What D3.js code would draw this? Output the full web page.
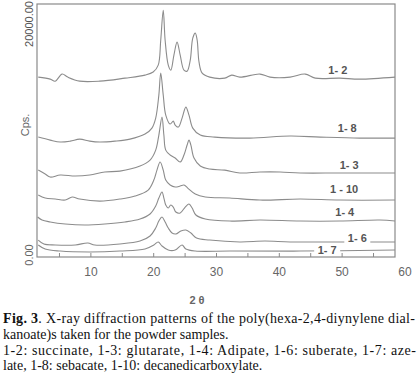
<!DOCTYPE html>
<html>
<head>
<meta charset="utf-8">
<script src="https://cdn.jsdelivr.net/npm/d3@7"></script>
<style>
  body { margin: 0; background: #fff; }
  svg { display: block; }
  .sans { font-family: 'Liberation Sans', Arial, sans-serif; }
  .serif { font-family: 'Liberation Serif', 'Times New Roman', serif; }
</style>
</head>
<body>
<svg id="chart" width="419" height="377"></svg>
<script>
// 2theta (deg), counts (cps)
let s12 = [[1.7,14220],[3.6,14060],[4.4,13900],[5.5,14460],[6.4,14220],[8.3,13900],[11.5,13900],[15.5,14140],[18.7,14380],[20.0,14620],[20.8,15170],[21.2,17140],[21.6,19510],[21.9,17140],[22.4,15170],[22.8,14770],[23.3,15960],[23.8,16990],[24.3,15960],[24.9,14770],[25.4,14690],[25.9,15560],[26.3,17300],[26.7,17700],[27.0,17140],[27.3,15400],[27.8,14540],[29.0,14220],[31.4,14140],[32.5,14380],[33.8,14220],[37.0,14460],[38.6,14220],[41.8,14220],[44.2,14460],[45.8,14140],[49.7,14140],[52.9,14060],[58.5,14220]];
let s18 = [[1.7,9480],[3.6,9240],[5.2,9090],[6.8,9160],[8.3,9320],[9.9,9160],[11.5,9090],[13.9,9160],[16.3,9320],[18.7,9720],[19.8,10190],[20.4,10980],[20.9,12800],[21.2,14540],[21.6,12800],[22.0,11220],[22.7,10510],[23.2,10740],[23.5,10430],[24.0,10270],[24.6,10980],[25.2,11850],[25.7,11220],[26.3,10190],[27.5,9640],[29.8,9480],[35.4,9400],[41.8,9560],[46.6,9480],[52.9,9400],[58.5,9400]];
let s13 = [[1.7,6870],[2.8,6560],[3.6,6320],[5.2,6480],[7.6,6400],[9.9,6480],[12.3,6720],[14.7,6790],[17.9,7190],[19.5,7660],[20.4,8450],[20.9,9640],[21.4,11060],[21.7,9640],[22.0,8450],[22.7,8060],[23.5,7820],[24.3,7510],[24.9,8060],[25.4,8850],[25.7,9240],[26.0,8850],[26.5,7820],[27.5,7190],[29.0,6950],[31.4,6870],[33.8,6640],[37.0,6720],[40.2,6720],[43.4,6640],[49.7,6640],[58.5,6640]];
let s110 = [[1.7,4900],[2.8,4660],[4.4,4580],[6.0,4500],[7.1,4740],[8.3,4580],[11.5,4420],[14.7,4580],[17.1,4820],[19.2,5290],[20.1,6080],[20.6,6870],[21.1,7510],[21.6,6870],[22.0,6080],[22.7,5690],[23.5,5530],[24.3,5610],[24.9,5690],[25.5,5450],[26.7,4980],[28.3,4740],[32.2,4660],[37.0,4500],[43.4,4580],[49.7,4500],[58.5,4500]];
let s14 = [[1.6,3160],[2.3,2920],[3.6,2770],[6.0,2610],[9.1,2530],[12.3,2610],[15.5,2770],[17.9,3000],[19.5,3400],[20.4,4030],[20.9,4660],[21.4,5140],[21.7,4660],[22.0,4110],[22.4,3870],[22.8,4110],[23.2,3950],[23.6,3560],[24.3,3480],[25.1,3950],[25.7,4190],[26.2,3870],[26.8,3320],[28.3,3000],[32.2,2840],[37.0,2920],[43.4,2840],[49.7,2840],[56.1,2920],[58.5,2840]];
let s16 = [[1.7,1340],[2.6,1030],[4.4,950],[7.6,950],[9.6,1110],[10.7,950],[14.7,1030],[17.9,1260],[19.5,1660],[20.4,2290],[20.9,2840],[21.4,3160],[21.9,2770],[22.4,2290],[23.0,1900],[23.6,1820],[24.4,2050],[25.2,2130],[26.0,1900],[26.9,1500],[29.0,1340],[33.8,1190],[37.8,1260],[41.8,1190],[49.7,1190],[58.5,1190]];
let s17 = [[1.7,950],[2.8,630],[5.2,470],[9.9,400],[14.7,470],[18.7,630],[20.1,950],[20.8,1190],[21.4,870],[22.4,550],[23.5,550],[24.6,950],[25.2,630],[26.7,470],[32.2,470],[43.4,470],[58.5,550]];

let seriesNames = ['1- 2', '1- 8', '1- 3', '1 - 10', '1- 4', '1- 6', '1- 7'];
let seriesData = [s12, s18, s13, s110, s14, s16, s17];
// where each curve label sits: [2theta, cps]
let labelAt = [[49.4,14770],[50.9,10190],[51.2,7270],[50.4,5370],[50.5,3560],[52.5,1500],[47.7,550]];

let xTicks = [5,10,15,20,25,30,35,40,45,50,55,60];
let yTickLabels = ['0.00', '20000.00'];

let captionLines = [
  'X-ray diffraction patterns of the poly(hexa-2,4-diynylene dial-',
  'kanoate)s taken for the powder samples.',
  '1-2: succinate, 1-3: glutarate, 1-4: Adipate, 1-6: suberate, 1-7: aze-',
  'late, 1-8: sebacate,  1-10: decanedicarboxylate.'
];

let svg = d3.select('#chart');
let plotL = 37, plotR = 395, plotT = 4, plotB = 257;

let xScale = d3.scaleLinear().domain([1.5, 58.5]).range([plotL, plotR]);
let yScale = d3.scaleLinear().domain([0, 20000]).range([plotB, plotT]);

// frame
svg.append('rect')
  .attr('x', plotL).attr('y', plotT)
  .attr('width', plotR - plotL).attr('height', plotB - plotT)
  .attr('fill', 'none').attr('stroke', '#8a8a8a').attr('stroke-width', 1.2);

let line = d3.line()
  .x(d => xScale(d[0]))
  .y(d => yScale(d[1]))
  .curve(d3.curveCatmullRom.alpha(0.5));

svg.append('g').selectAll('path')
  .data(seriesData)
  .enter()
  .append('path')
  .attr('d', line)
  .attr('fill', 'none')
  .attr('stroke', '#8c8c8c')
  .attr('stroke-width', 1.1);

// curve labels (white box behind the crowded bottom ones)
let lab = svg.append('g');
seriesNames.forEach((name, i) => {
  let cx = xScale(labelAt[i][0]), cy = yScale(labelAt[i][1]);
  if (i >= 5) {
    lab.append('rect')
      .attr('x', cx - 13).attr('y', cy - 6)
      .attr('width', 26).attr('height', 11)
      .attr('fill', '#fff');
  }
  lab.append('text')
    .attr('class', 'sans')
    .attr('x', cx).attr('y', cy + 4)
    .attr('text-anchor', 'middle')
    .attr('font-size', 11)
    .attr('font-weight', 'bold')
    .attr('fill', '#555')
    .text(name);
});

// x axis
let xAxis = d3.axisBottom(xScale)
  .tickValues(xTicks)
  .tickSize(-4)
  .tickPadding(10)
  .tickFormat(d => d % 10 === 0 ? d : '');
let xg = svg.append('g').attr('transform', `translate(0, ${plotB})`).call(xAxis);
xg.attr('font-family', null).attr('font-size', null);
xg.select('.domain').remove();
xg.selectAll('.tick line').attr('stroke', '#8a8a8a')
  .filter(d => d === 60).remove();
xg.selectAll('.tick text')
  .attr('class', 'sans')
  .attr('font-size', 12)
  .attr('fill', '#666');

// y axis labels, rotated
svg.append('text')
  .attr('class', 'sans')
  .attr('transform', `translate(33, ${yScale(0) - 2}) rotate(-90)`)
  .attr('text-anchor', 'middle')
  .attr('font-size', 11).attr('fill', '#666')
  .text(yTickLabels[0]);
svg.append('text')
  .attr('class', 'sans')
  .attr('transform', `translate(33, ${yScale(20000) - 3}) rotate(-90)`)
  .attr('text-anchor', 'end')
  .attr('font-size', 11).attr('fill', '#555')
  .text(yTickLabels[1]);
svg.append('text')
  .attr('class', 'sans')
  .attr('transform', 'translate(29, 125) rotate(-90)')
  .attr('text-anchor', 'middle')
  .attr('font-size', 11).attr('fill', '#666')
  .text('Cps.');

svg.append('text')
  .attr('class', 'sans')
  .attr('x', 197).attr('y', 304)
  .attr('text-anchor', 'middle')
  .attr('font-size', 11).attr('font-weight', 'bold').attr('fill', '#666')
  .text('2 θ');

// caption
let cap = svg.append('g')
  .attr('class', 'serif')
  .attr('font-size', 14)
  .attr('fill', '#111');
let first = cap.append('text').attr('x', 3).attr('y', 323)
  .attr('textLength', 412).attr('lengthAdjust', 'spacing');
first.append('tspan').attr('font-weight', 'bold').text('Fig. 3');
first.append('tspan').text('. ' + captionLines[0]);
cap.append('text').attr('x', 3).attr('y', 339).text(captionLines[1]);
cap.append('text').attr('x', 3).attr('y', 355)
  .attr('textLength', 413).attr('lengthAdjust', 'spacing')
  .text(captionLines[2]);
cap.append('text').attr('x', 3).attr('y', 370).text(captionLines[3]);
</script>
</body>
</html>
